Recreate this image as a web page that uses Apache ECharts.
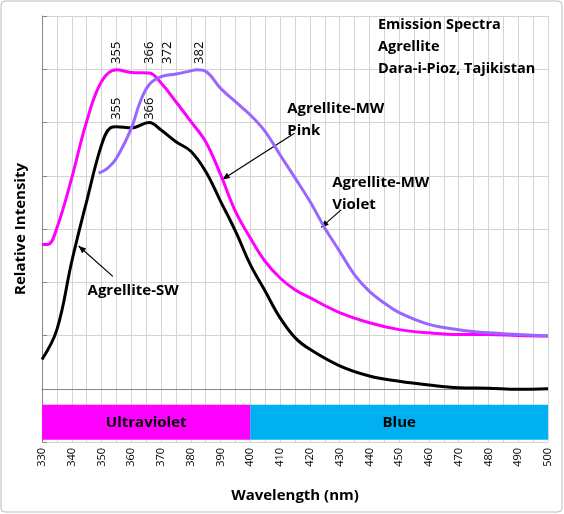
<!DOCTYPE html><html><head><meta charset="utf-8"><script src="https://cdn.jsdelivr.net/npm/echarts@6/dist/echarts.min.js"></script>
<style>html,body{margin:0;padding:0;background:#fff}#c{width:564px;height:514px}</style></head><body><div id="c"></div><script>
const swX=[330,335,340,345,350,353,355,360,366,370,375,380,385,390,395,400,405,410,415,420,430,440,450,460,470,480,490,500];
const swY=[0.55,1.11,2.39,3.52,4.58,4.9,4.92,4.9,5.0,4.86,4.64,4.46,4.08,3.52,2.96,2.33,1.83,1.33,0.96,0.74,0.43,0.24,0.14,0.07,0.02,0.01,-0.01,0];
const pinkX=[330,332,335,340,345,350,355,360,366,370,375,380,385,390,395,400,405,410,415,420,430,440,450,460,470,480,490,500];
const pinkY=[2.71,2.71,3.02,3.96,5.02,5.77,5.99,5.94,5.93,5.74,5.39,5.02,4.64,4.02,3.33,2.83,2.39,2.08,1.86,1.71,1.43,1.24,1.11,1.05,1.02,1.02,1.0,0.99];
const violetX=[349,352,355,360,363,366,370,375,380,382,385,390,395,400,405,410,415,420,425,430,435,440,445,450,460,470,480,490,500];
const violetY=[4.05,4.14,4.33,4.89,5.39,5.71,5.86,5.91,5.97,5.99,5.96,5.64,5.39,5.14,4.83,4.39,3.96,3.52,3.02,2.58,2.14,1.83,1.61,1.43,1.21,1.11,1.05,1.02,0.99];
const pinkPeaks=[[355,'355'],[366,'366'],[372,'372'],[383,'382']];
const swPeaks=[[355,'355'],[366,'366']];
const F='"Open Sans", sans-serif';
const z=(a,b)=>a.map((v,i)=>[v,b[i]]);
const chart=echarts.init(document.getElementById('c'));
chart.setOption({animation:false,
grid:{left:42,right:16,top:16,bottom:72},
xAxis:{type:'value',min:330,max:500,interval:5,name:'Wavelength (nm)',nameLocation:'middle',nameGap:46,
 nameTextStyle:{fontFamily:F,fontWeight:'bold',fontSize:15,color:'#000'},
 axisLine:{lineStyle:{color:'#888'}},axisTick:{show:false},
 axisLabel:{rotate:90,margin:6,fontFamily:F,fontSize:11,color:'#000',formatter:v=>v%10===0?String(v):''},
 splitLine:{lineStyle:{color:'#d4d4d4'}}},
yAxis:{type:'value',min:-1,max:7,interval:1,name:'Relative Intensity',nameLocation:'middle',nameGap:14,
 nameTextStyle:{fontFamily:F,fontWeight:'bold',fontSize:15,color:'#000'},
 axisLabel:{show:false},axisLine:{show:true,lineStyle:{color:'#888'}},axisTick:{show:true,inside:true,length:5,lineStyle:{color:'#888'}},
 splitLine:{lineStyle:{color:'#d4d4d4'}}},
series:[
{type:'line',data:[],markArea:{silent:true,data:[
 [{xAxis:330,yAxis:-0.96,itemStyle:{color:'#ff00ff'},label:{show:true,position:'inside',formatter:'Ultraviolet',fontFamily:F,fontWeight:'bold',fontSize:15,color:'#000'}},{xAxis:400,yAxis:-0.3}],
 [{xAxis:400,yAxis:-0.96,itemStyle:{color:'#00b0f0'},label:{show:true,position:'inside',formatter:'Blue',fontFamily:F,fontWeight:'bold',fontSize:15,color:'#000'}},{xAxis:500,yAxis:-0.3}]]}},
{type:'line',data:z(swX,swY),smooth:0.4,showSymbol:false,lineStyle:{color:'#000',width:3}},
{type:'line',data:z(pinkX,pinkY),smooth:0.4,showSymbol:false,lineStyle:{color:'#ff00ff',width:3}},
{type:'line',data:z(violetX,violetY),smooth:0.4,showSymbol:false,lineStyle:{color:'#9966ff',width:3}}
]});
const P=(x,y)=>chart.convertToPixel({gridIndex:0},[x,y]);
const g=[{type:'rect',shape:{x:1,y:1,width:561,height:511,r:4},style:{fill:'none',stroke:'#bbb',lineWidth:1}}];
function txt(x,y,t,extra){const p=P(x,y);g.push(Object.assign({type:'text',x:p[0],y:p[1],style:{text:t,fontFamily:F,fontWeight:'bold',fontSize:15,fill:'#000',lineHeight:22}},extra||{}));}
function arrow(x1,y1,x2,y2){const a=P(x1,y1),b=P(x2,y2);const ang=Math.atan2(b[1]-a[1],b[0]-a[0]);const L=8,w=0.4;
 g.push({type:'line',shape:{x1:a[0],y1:a[1],x2:b[0],y2:b[1]},style:{stroke:'#000',lineWidth:1.2}});
 g.push({type:'polygon',shape:{points:[b,[b[0]-L*Math.cos(ang-w),b[1]-L*Math.sin(ang-w)],[b[0]-L*Math.cos(ang+w),b[1]-L*Math.sin(ang+w)]]},style:{fill:'#000'}});}
txt(412.4,5.46,'Agrellite-MW\nPink');arrow(414.8,4.8,390.6,3.93);
txt(427.5,4.08,'Agrellite-MW\nViolet');arrow(430.5,3.36,423.8,3.03);
txt(345.3,2.05,'Agrellite-SW');arrow(353.8,2.11,342.3,2.68);
g.push({type:'text',left:378,top:14,style:{text:'Emission Spectra\nAgrellite\nDara-i-Pioz, Tajikistan',fontFamily:F,fontWeight:'bold',fontSize:14.5,fill:'#000',lineHeight:22}});
pinkPeaks.forEach(([x,t])=>{const p=P(x,6.1);g.push({type:'text',x:p[0],y:p[1],rotation:Math.PI/2,style:{text:t,fontFamily:F,fontSize:13,fill:'#000',align:'left',verticalAlign:'middle'}});});
swPeaks.forEach(([x,t])=>{const p=P(x,5.05);g.push({type:'text',x:p[0],y:p[1],rotation:Math.PI/2,style:{text:t,fontFamily:F,fontSize:13,fill:'#000',align:'left',verticalAlign:'middle'}});});
chart.setOption({graphic:g});
</script></body></html>
